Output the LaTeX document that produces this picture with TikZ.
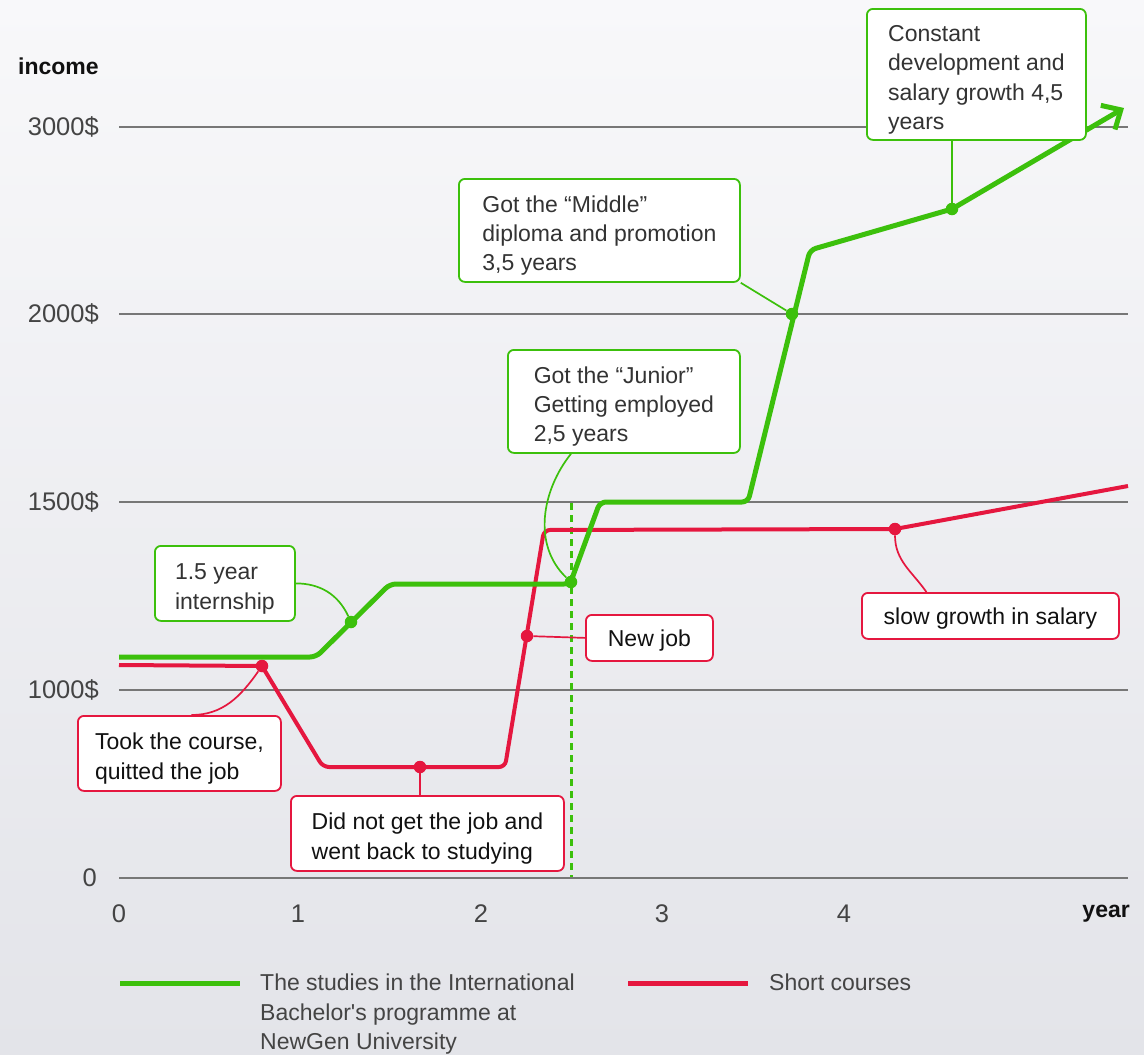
\documentclass[tikz,border=0pt]{standalone}
\usepackage{fontspec}
\setmainfont{Liberation Sans}[Ligatures=TeXOff]
\usetikzlibrary{arrows.meta,calc}
\definecolor{lgreen}{HTML}{3CC00C}
\definecolor{lred}{HTML}{E5173F}
\definecolor{gridgray}{HTML}{777777}
\definecolor{bgtop}{HTML}{F8F8FA}
\definecolor{bgbot}{HTML}{E3E4E9}
\definecolor{gtext}{HTML}{333333}
\definecolor{rtext}{HTML}{111111}
\definecolor{ticktext}{HTML}{444444}
\newcommand{\boxfont}{\fontsize{23}{29.4}\selectfont}
\newcommand{\tickfont}{\fontsize{25.5}{28}\selectfont}
\newcommand{\axfont}{\fontsize{23}{28}\selectfont\bfseries}
\newcommand{\tallstrut}{\rule{0pt}{27pt}}
\newcommand{\shortstrut}{\rule{0pt}{21.5pt}}
\tikzset{
  gridline/.style={draw=gridgray, line width=2.7pt},
  gline/.style={draw=lgreen, line width=5pt, rounded corners=6pt, line join=round},
  rline/.style={draw=lred, line width=4pt, rounded corners=6pt, line join=round},
  gdot/.style={circle, fill=lgreen, inner sep=0pt, minimum size=12.5pt},
  rdot/.style={circle, fill=lred, inner sep=0pt, minimum size=12.5pt},
  gbox/.style={draw=lgreen, line width=1.8pt, fill=white, rounded corners=6pt, align=left, inner sep=0pt, anchor=north west, text=gtext, font=\boxfont},
  rbox/.style={draw=lred, line width=1.8pt, fill=white, rounded corners=6pt, align=left, inner sep=0pt, anchor=north west, text=rtext, font=\boxfont},
  gcon/.style={draw=lgreen, line width=1.7pt},
  rcon/.style={draw=lred, line width=1.7pt},
  ticklabel/.style={text=ticktext, font=\tickfont, inner sep=0pt},
  axlabel/.style={text=rtext, font=\axfont, inner sep=0pt},
  legendtext/.style={text=ticktext, font=\boxfont, align=left, inner sep=0pt, anchor=north west},
}
\begin{document}
\begin{tikzpicture}[x=1pt,y=-1pt]
\useasboundingbox (0,0) rectangle (1144,1055);
\shade[top color=bgtop, bottom color=bgbot] (0,0) rectangle (1144,1055);

% grid
\foreach \yy in {127,314,502,690,878} \draw[gridline] (119,\yy) -- (1128,\yy);

% axis labels
\node[axlabel, anchor=west] (income) at (18,66) {income};
\node[ticklabel, anchor=east] (t3000) at (99,127) {3000\$};
\node[ticklabel, anchor=east] (t2000) at (99,314) {2000\$};
\node[ticklabel, anchor=east] (t1500) at (99,502) {1500\$};
\node[ticklabel, anchor=east] (t1000) at (99,690) {1000\$};
\node[ticklabel, anchor=east] (t0) at (97,878) {0};
\node[ticklabel] (x0) at (119,914) {0};
\node[ticklabel] (x1) at (298,914) {1};
\node[ticklabel] (x2) at (481,914) {2};
\node[ticklabel] (x3) at (662,914) {3};
\node[ticklabel] (x4) at (844,914) {4};
\node[axlabel, anchor=east] (year) at (1130,914) {year};

% dashed marker
\draw[draw=lgreen, line width=3pt, dash pattern=on 7pt off 5pt] (571,503) -- (571,877);

% red line
\draw[rline] (119,665) -- (262,666) -- (323,767) -- (505,767) -- (544,530) -- (895,529) -- (1128,486);
% green line
\draw[gline, -{Straight Barb[length=15pt,width=28pt]}] (119,657) -- (316,657) -- (390,584) -- (570,584) -- (600,502) -- (748,502) -- (810,250) -- (952,209) -- (1124,108);

% dots
\node[gdot] (g1) at (351,622) {};
\node[gdot] (g2) at (571,582) {};
\node[gdot] (g3) at (792,314) {};
\node[gdot] (g4) at (952,209) {};
\node[rdot] (r1) at (262,666) {};
\node[rdot] (r2) at (420,767) {};
\node[rdot] (r3) at (527,636) {};
\node[rdot] (r4) at (895,529) {};

% boxes
\node[gbox, minimum width=140pt, minimum height=75pt] (intern) at (154,545) {\tallstrut 1.5 year\\internship};
\node[gbox, minimum width=232pt, minimum height=103pt] (junior) at (507,349) {\tallstrut Got the “Junior”\\Getting employed\\2,5 years};
\node[gbox, minimum width=281pt, minimum height=103pt] (middle) at (458,178) {\tallstrut Got the “Middle”\\diploma and promotion\\3,5 years};
\node[gbox, minimum width=219pt, minimum height=131pt] (const) at (866,8) {\tallstrut Constant\\development and\\salary growth 4,5\\years};
\node[rbox, minimum width=203pt, minimum height=75pt] (took) at (77,715) {\tallstrut Took the course,\\quitted the job};
\node[rbox, minimum width=273pt, minimum height=75pt] (didnot) at (290,795) {\tallstrut Did not get the job and\\went back to studying};
\node[rbox, minimum width=127pt, minimum height=46pt] (newjob) at (585,614) {\shortstrut New job};
\node[rbox, minimum width=257pt, minimum height=46pt] (slow) at (861,592) {\shortstrut slow growth in salary};

% connectors
\draw[gcon] (intern.east) to[out=0,in=115] (g1);
\draw[gcon] (junior.south -| g2) .. controls (542,490) and (532,545) .. (g2);
\draw[gcon] (middle.south east) -- (g3);
\draw[gcon, line width=2.2pt] (const.south -| g4) -- (g4);
\draw[rcon] ([xshift=12pt]took.north) to[out=0,in=235] (r1);
\draw[rcon, line width=2.4pt] (didnot.north -| r2) -- (r2);
\draw[rcon] (r3) -- (newjob.west);
\draw[rcon] (r4) to[out=-90,in=125] ([xshift=-64pt]slow.north);

% legend
\coordinate (lga) at (120,983);
\coordinate (lgb) at (240,983);
\coordinate (lrc) at (628,983);
\coordinate (lrd) at (748,983);
\draw[draw=lgreen, line width=5pt] (lga) -- (lgb);
\draw[draw=lred, line width=5pt] (lrc) -- (lrd);
\node[legendtext] (leg1) at (260,974) {The studies in the International\\Bachelor's programme at\\NewGen University};
\node[legendtext] (leg2) at (769,974) {Short courses};
\end{tikzpicture}
\end{document}
